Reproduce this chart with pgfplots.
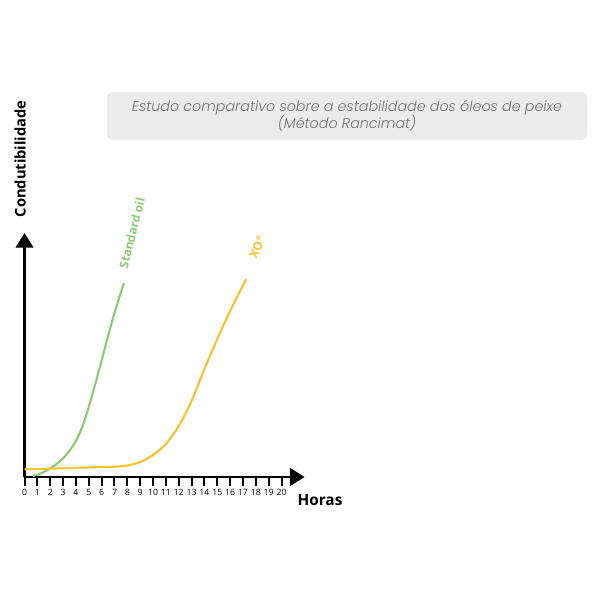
\documentclass[border=0pt]{standalone}
\usepackage{pgfplots}
\pgfplotsset{compat=1.18}
\usepackage{fontspec}
\setmainfont{Open Sans}
\newfontfamily\titlefont{Poppins}[UprightFont=* Light, ItalicFont=* Light Italic]
\usetikzlibrary{arrows.meta}

\definecolor{oilgreen}{HTML}{8CCB72}
\definecolor{xoyellow}{HTML}{F5C230}
\definecolor{boxgray}{HTML}{EBEBEB}
\definecolor{titlegray}{HTML}{737373}

\begin{document}
\begin{tikzpicture}
% pixel grid of the 600x600 reference, y down
\begin{scope}[x=0.75pt,y=-0.75pt]
  \path (0,0) rectangle (600,600);
  \fill[boxgray, rounded corners=4pt] (107,92) rectangle (587,140);
  \node[text=titlegray, font=\titlefont\itshape\fontsize{10.7pt}{13pt}\selectfont, align=center] at (347,116)
    {Estudo comparativo sobre a estabilidade dos óleos de peixe\\(Método Rancimat)};
  \node[rotate=90, font=\bfseries\fontsize{11pt}{12pt}\selectfont] at (20,159) {Condutibilidade};
  \node[font=\bfseries\fontsize{11.5pt}{12pt}\selectfont] at (320,500) {Horas};
  \node[rotate=76, text=oilgreen, font=\bfseries\fontsize{9pt}{11pt}\selectfont] at (132,233) {Standard oil};
  \node[rotate=64, text=xoyellow, font=\bfseries\fontsize{9pt}{11pt}\selectfont] at (257,247) {XO\textsuperscript{\tiny ®}};
\end{scope}

\begin{axis}[
    at={(18.4pt,-357.75pt)}, anchor=south west,
    x=9.6375pt, y=0.75pt,
    xmin=0, xmax=21.8, ymin=0, ymax=244,
    axis lines=left,
    axis line style={line width=2.2pt, -{Triangle[length=11pt,width=13pt]}},
    xtick={0,1,...,20}, ytick=\empty,
    tick align=outside,
    major tick length=7pt,
    tick style={line width=1.5pt, black},
    xticklabel style={font=\fontsize{6.5pt}{7pt}\selectfont, inner sep=1pt, yshift=-1pt},
    /pgf/number format/assume math mode=true,
    clip=false,
  ]
  % Standard oil (green)
  \addplot[oilgreen, line width=1.6pt, smooth, tension=0.5] coordinates {
    (0.65,1) (1.3,3.8) (2,8.7) (2.7,15) (3.3,23) (4,36) (4.6,54) (5.2,79) (5.8,107) (6.4,136) (7,164) (7.73,194)
  };
  % XO (yellow)
  \addplot[xoyellow, line width=1.6pt, smooth, tension=0.5] coordinates {
    (0,7.7) (3,8.8) (6,10) (7,10.3) (8,11.5) (9,15) (10,22) (11,33) (12,51) (13,76) (14,108) (15,138) (16,166) (17.25,198)
  };
\end{axis}
\end{tikzpicture}
\end{document}
